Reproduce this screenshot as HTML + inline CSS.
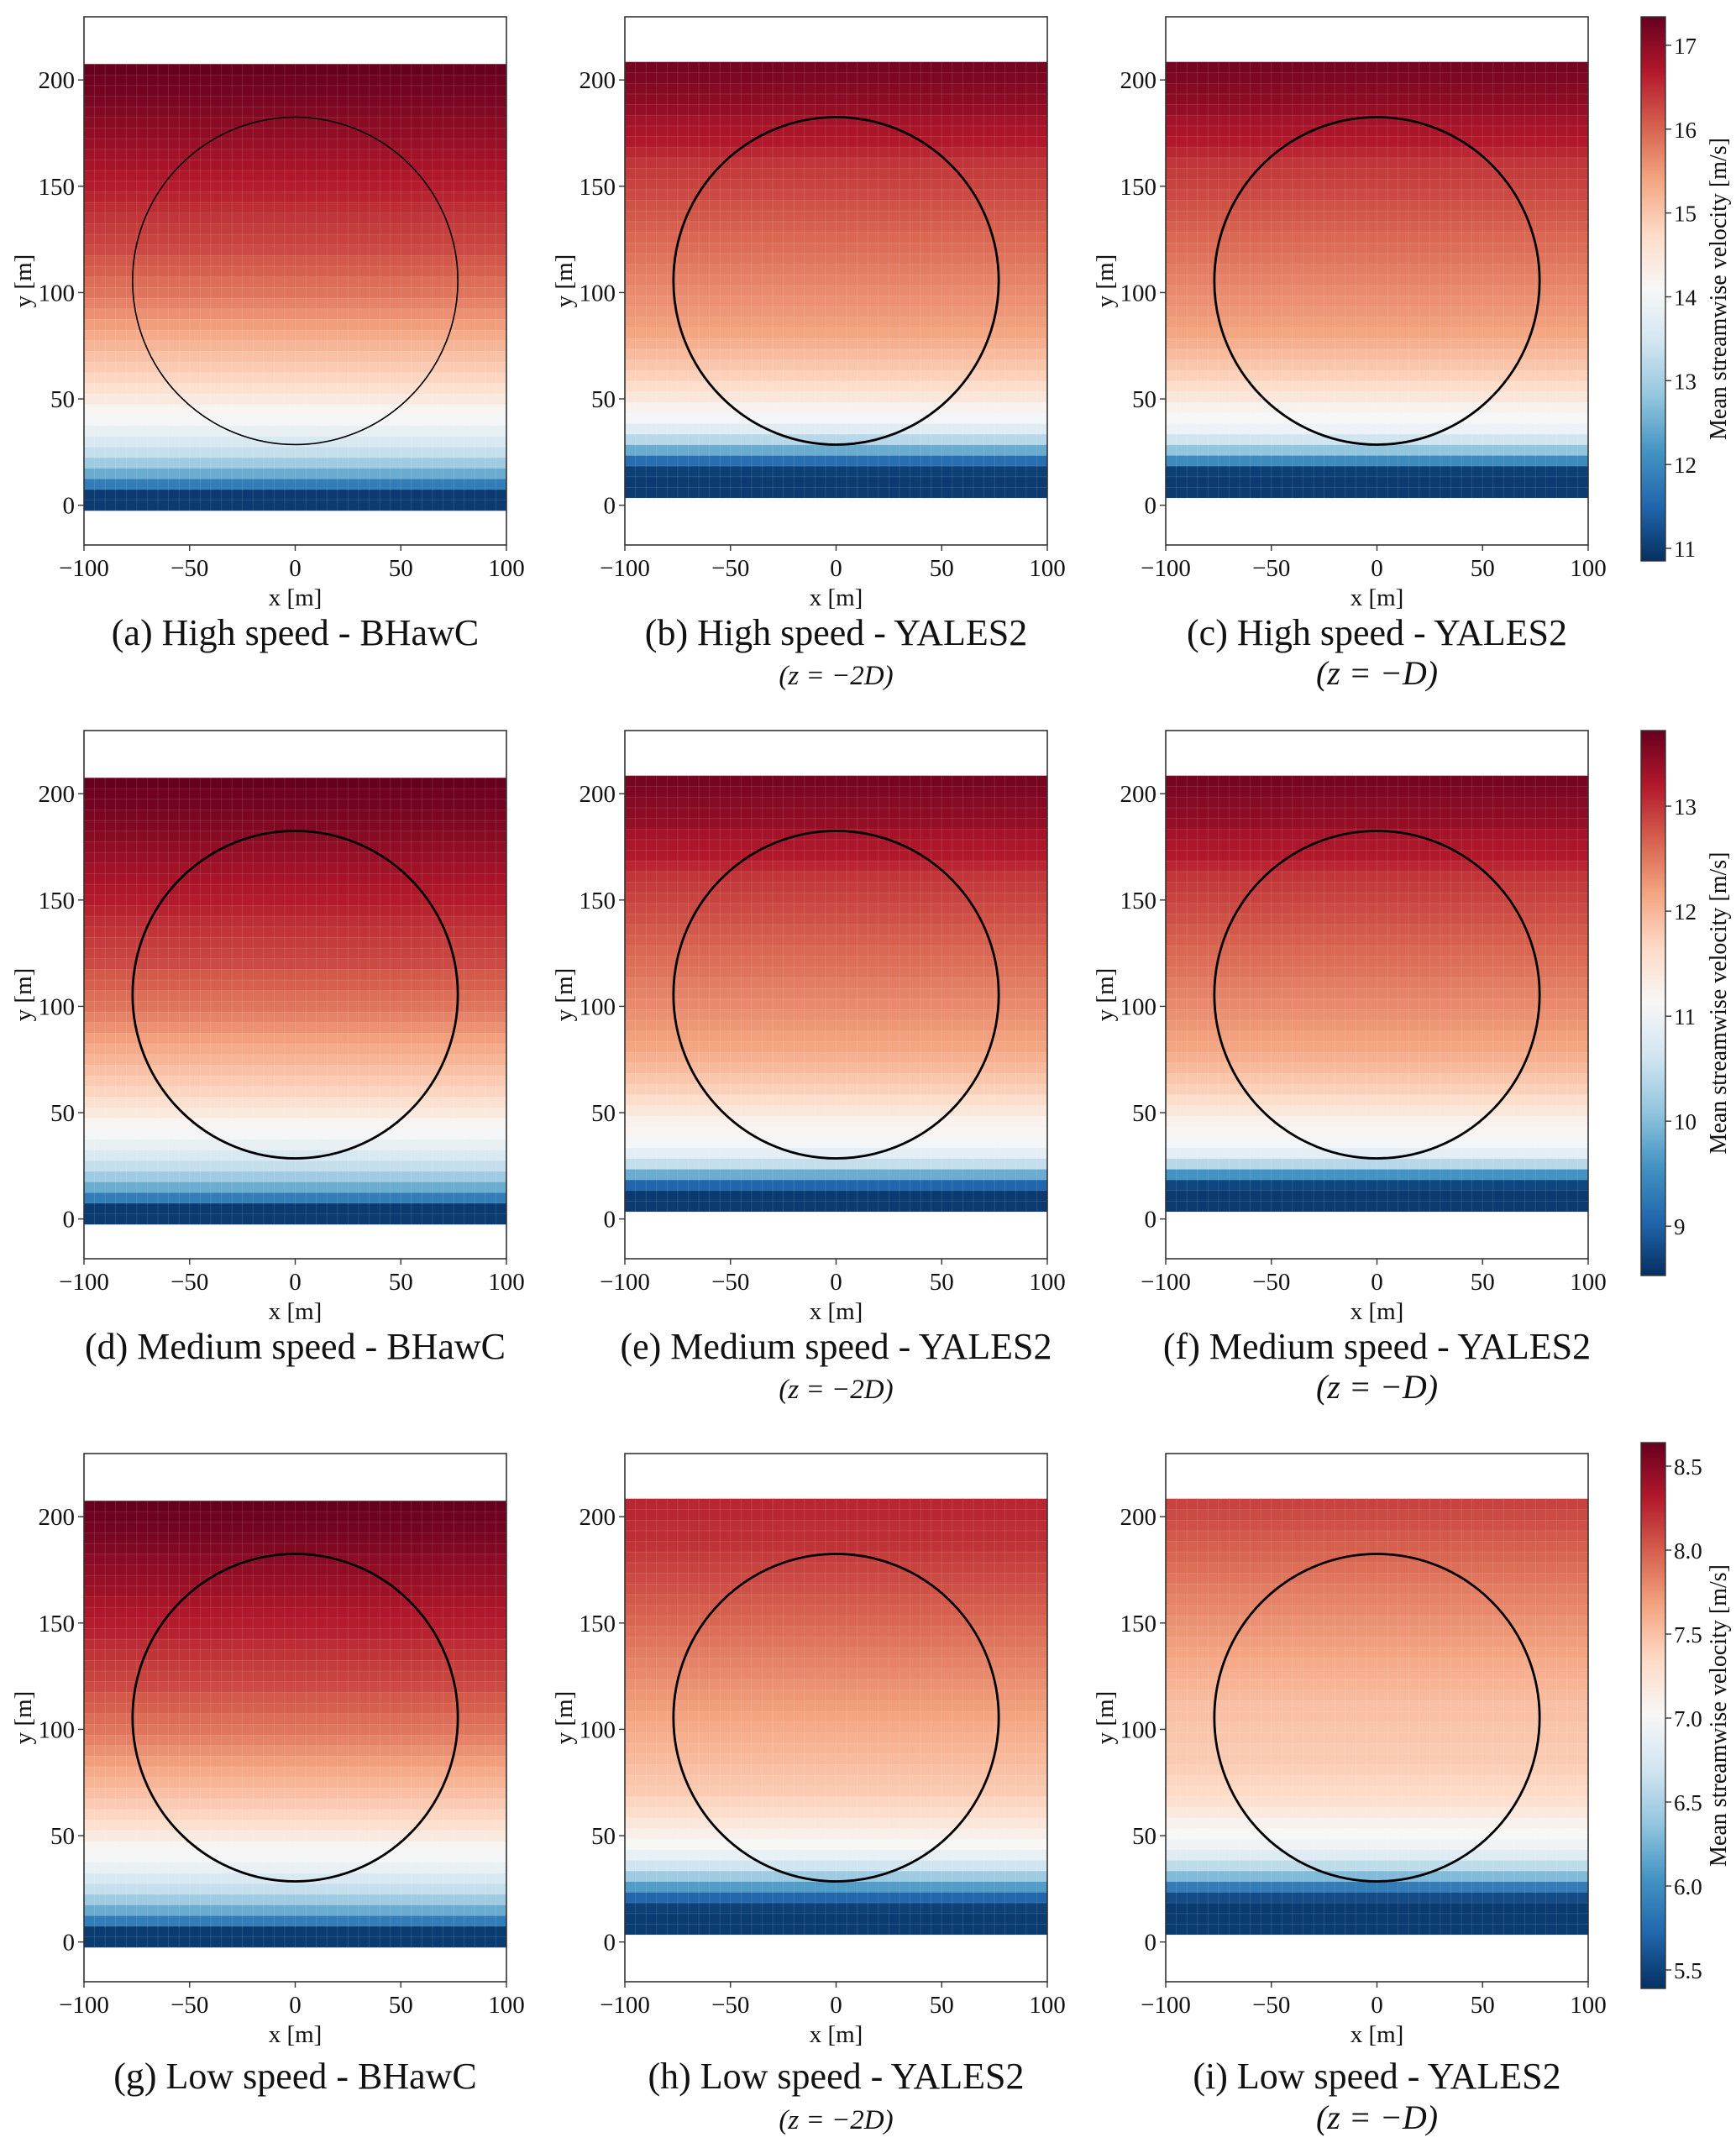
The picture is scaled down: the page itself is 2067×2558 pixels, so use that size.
<!DOCTYPE html>
<html><head><meta charset="utf-8">
<style>
html,body{margin:0;padding:0;background:#fff;}
svg{display:block;font-family:"Liberation Serif","DejaVu Serif",serif;}
</style></head>
<body>
<svg id="fig" width="2067" height="2558" viewBox="0 0 2067 2558" xmlns="http://www.w3.org/2000/svg"></svg>
<script>
// ---- data ----
const xTicks = [-100, -50, 0, 50, 100];
const yTicks = [0, 50, 100, 150, 200];
const bhawcRowBase = -2.5;
const yalesRowBase = 3.5;
const rowStep = 5;
const colStep = 5;
const rotorCenterY = 105.5;
const rotorRadius = 77;

const profA = [10.98,10.98,11.82,12.47,12.93,13.32,13.58,13.84,14.03,14.16,14.42,14.61,14.81,14.94,15.07,15.2,15.33,15.46,15.59,15.72,15.85,15.91,16.04,16.11,16.24,16.3,16.37,16.43,16.5,16.59,16.66,16.72,16.79,16.85,16.92,16.98,17.05,17.11,17.18,17.24,17.28,17.34];
const profB = [10.98,10.98,11.04,11.63,12.47,13.19,13.71,14.03,14.22,14.48,14.68,14.87,15.0,15.13,15.26,15.39,15.46,15.52,15.59,15.65,15.72,15.78,15.85,15.91,15.98,16.04,16.11,16.17,16.24,16.3,16.37,16.43,16.56,16.69,16.76,16.82,16.95,17.02,17.08,17.15,17.21];
const profC = [10.98,10.98,11.04,12.02,12.8,13.45,13.9,14.1,14.22,14.48,14.68,14.87,15.0,15.13,15.26,15.39,15.46,15.52,15.59,15.65,15.72,15.78,15.85,15.91,15.98,16.04,16.11,16.17,16.24,16.3,16.37,16.43,16.56,16.69,16.76,16.82,16.95,17.02,17.08,17.15,17.21];
const profD = [8.63,8.63,9.31,9.83,10.19,10.5,10.71,10.92,11.07,11.18,11.38,11.54,11.7,11.8,11.9,12.01,12.11,12.21,12.32,12.42,12.53,12.58,12.68,12.73,12.84,12.89,12.94,12.99,13.05,13.12,13.18,13.23,13.28,13.33,13.38,13.43,13.49,13.54,13.59,13.64,13.67,13.72];
const profE = [8.63,8.63,9.05,9.83,10.5,10.87,11.07,11.18,11.23,11.44,11.59,11.75,11.85,11.96,12.06,12.16,12.21,12.27,12.32,12.37,12.42,12.47,12.53,12.58,12.63,12.68,12.73,12.79,12.84,12.89,12.94,12.99,13.1,13.2,13.25,13.3,13.41,13.46,13.51,13.56,13.62];
const profF = [8.63,8.63,8.74,9.57,10.4,10.87,11.07,11.18,11.23,11.44,11.59,11.75,11.85,11.96,12.06,12.16,12.21,12.27,12.32,12.37,12.42,12.47,12.53,12.58,12.63,12.68,12.73,12.79,12.84,12.89,12.94,12.99,13.1,13.2,13.25,13.3,13.41,13.46,13.51,13.56,13.62];
const profG = [5.46,5.46,5.88,6.2,6.43,6.63,6.76,6.89,6.98,7.05,7.18,7.28,7.37,7.44,7.5,7.57,7.63,7.7,7.76,7.83,7.89,7.93,7.99,8.02,8.09,8.12,8.15,8.19,8.22,8.27,8.3,8.33,8.36,8.4,8.43,8.46,8.49,8.53,8.56,8.59,8.61,8.64];
const profH = [5.46,5.46,5.49,5.72,6.1,6.43,6.69,6.89,7.02,7.11,7.21,7.31,7.37,7.44,7.47,7.5,7.54,7.57,7.6,7.63,7.67,7.7,7.73,7.76,7.8,7.83,7.86,7.89,7.93,7.96,7.99,8.02,8.06,8.09,8.12,8.15,8.19,8.22,8.22,8.25,8.25];
const profI = [5.46,5.46,5.46,5.55,5.88,6.3,6.59,6.82,6.95,7.02,7.08,7.18,7.28,7.34,7.37,7.41,7.44,7.44,7.47,7.47,7.5,7.5,7.54,7.57,7.6,7.63,7.67,7.7,7.73,7.76,7.8,7.83,7.86,7.89,7.93,7.96,7.99,8.02,8.06,8.09,8.12];

const cbarRange1 = [10.85, 17.34];
const cbarRange2 = [8.53, 13.72];
const cbarRange3 = [5.39, 8.64];
const cbarTicks1 = [11, 12, 13, 14, 15, 16, 17];
const cbarTicks2 = [9, 10, 11, 12, 13];
const cbarTicks3 = [5.5, 6.0, 6.5, 7.0, 7.5, 8.0, 8.5];
const cbarTickLabels3 = ["5.5","6.0","6.5","7.0","7.5","8.0","8.5"];

const captionsMain = ["(a) High speed - BHawC","(b) High speed - YALES2","(c) High speed - YALES2",
 "(d) Medium speed - BHawC","(e) Medium speed - YALES2","(f) Medium speed - YALES2",
 "(g) Low speed - BHawC","(h) Low speed - YALES2","(i) Low speed - YALES2"];

// ---- layout ----
const NS = "http://www.w3.org/2000/svg";
const svg = document.getElementById('fig');
const colLeft = [100, 744, 1388];
const rowTop = [20, 870, 1731];
const axW = 503, axH = 629;
const xMin = -100, xMax = 100, yMin = -18.7, yMax = 229.7;
const cbX = 1954, cbW = 29;
const cbTop = [20, 870, 1718];
const cbBot = [668, 1519, 2368];
const capY = [768, 1618, 2487];
const subY = [815, 1665, 2535];

const stops = ["#053061","#2166ac","#4393c3","#92c5de","#d1e5f0","#f7f7f7","#fddbc7","#f4a582","#d6604d","#b2182b","#67001f"];
function hex(h){return [parseInt(h.substr(1,2),16),parseInt(h.substr(3,2),16),parseInt(h.substr(5,2),16)];}
const stopRGB = stops.map(hex);
function cmap(f){
  f = Math.max(0, Math.min(1, f));
  const p = f*(stopRGB.length-1), i = Math.min(Math.floor(p), stopRGB.length-2), t = p-i;
  const a = stopRGB[i], b = stopRGB[i+1];
  return `rgb(${Math.round(a[0]+(b[0]-a[0])*t)},${Math.round(a[1]+(b[1]-a[1])*t)},${Math.round(a[2]+(b[2]-a[2])*t)})`;
}
function mk(tag, attrs, parent){
  const e = document.createElementNS(NS, tag);
  for (const k in attrs) e.setAttribute(k, attrs[k]);
  (parent||svg).appendChild(e);
  return e;
}
function fmt(v){ return v < 0 ? "\u2212" + Math.abs(v) : String(v); }

const panels = [
 {p:profA, base:bhawcRowBase, r:0, c:0, rng:cbarRange1, sub:null},
 {p:profB, base:yalesRowBase, r:0, c:1, rng:cbarRange1, sub:"(z = \u22122D)"},
 {p:profC, base:yalesRowBase, r:0, c:2, rng:cbarRange1, sub:"(z = \u2212D)"},
 {p:profD, base:bhawcRowBase, r:1, c:0, rng:cbarRange2, sub:null},
 {p:profE, base:yalesRowBase, r:1, c:1, rng:cbarRange2, sub:"(z = \u22122D)"},
 {p:profF, base:yalesRowBase, r:1, c:2, rng:cbarRange2, sub:"(z = \u2212D)"},
 {p:profG, base:bhawcRowBase, r:2, c:0, rng:cbarRange3, sub:null},
 {p:profH, base:yalesRowBase, r:2, c:1, rng:cbarRange3, sub:"(z = \u22122D)"},
 {p:profI, base:yalesRowBase, r:2, c:2, rng:cbarRange3, sub:"(z = \u2212D)"}
];

panels.forEach((pn, idx) => {
  const L = colLeft[pn.c], T = rowTop[pn.r];
  const sx = x => L + (x - xMin) / (xMax - xMin) * axW;
  const sy = y => T + (yMax - y) / (yMax - yMin) * axH;
  const g = mk('g', {});
  
  
  const heat = mk('g', {}, g);
  
  
  const nCols = (xMax - xMin) / colStep;
  pn.p.forEach((v, ri) => {
    const y0 = pn.base + ri * rowStep, y1 = y0 + rowStep;
    const col = cmap((v - pn.rng[0]) / (pn.rng[1] - pn.rng[0]));
    for (let ci = 0; ci < nCols; ci++) {
      const x0 = xMin + ci * colStep, x1 = x0 + colStep;
      const r = mk('rect', {x: sx(x0), y: sy(y1), width: sx(x1) - sx(x0) + 0.3, height: sy(y0) - sy(y1) + 0.3, fill: col, stroke: 'rgba(255,255,255,0.12)', 'stroke-width': 0.8}, heat);
      
      
    }
  });
  const rx = sx(rotorRadius) - sx(0), ry = sy(rotorCenterY - rotorRadius) - sy(rotorCenterY);
  const circ = mk('ellipse', {cx: sx(0), cy: sy(rotorCenterY), rx: rx, ry: ry, fill: 'none', stroke: '#000', 'stroke-width': idx === 0 ? 1.6 : 2.8}, g);
  
  
  const fr = mk('rect', {x: L, y: T, width: axW, height: axH, fill: 'none', stroke: '#333', 'stroke-width': 1.6}, g);
  
  
  xTicks.forEach(t => {
    mk('line', {x1: sx(t), x2: sx(t), y1: T + axH, y2: T + axH + 7, stroke: '#333', 'stroke-width': 1.4}, g);
    const tx = mk('text', {x: sx(t), y: T + axH + 37, 'font-size': 29, 'text-anchor': 'middle', fill: '#111'}, g);
    tx.textContent = fmt(t);
    
    
  });
  yTicks.forEach(t => {
    mk('line', {x1: L - 7, x2: L, y1: sy(t), y2: sy(t), stroke: '#333', 'stroke-width': 1.4}, g);
    const tx = mk('text', {x: L - 11, y: sy(t) + 10, 'font-size': 29, 'text-anchor': 'end', fill: '#111'}, g);
    tx.textContent = fmt(t);
    
    
  });
  const xl = mk('text', {x: L + axW / 2, y: T + axH + 72, 'font-size': 29, 'text-anchor': 'middle', fill: '#111'}, g);
  xl.textContent = 'x [m]';
  
  
  const yl = mk('text', {x: 0, y: 0, 'font-size': 29, 'text-anchor': 'middle', fill: '#111', transform: `translate(${L - 63},${T + axH / 2}) rotate(-90)`}, g);
  yl.textContent = 'y [m]';
  
  
  const cap = mk('text', {x: L + axW / 2, y: capY[pn.r], 'font-size': 44, 'text-anchor': 'middle', fill: '#111'}, g);
  cap.textContent = captionsMain[idx];
  
  
  if (pn.sub) {
    const s = mk('text', {x: L + axW / 2, y: subY[pn.r], 'font-size': pn.c === 2 ? 40 : 33, 'text-anchor': 'middle', fill: '#111', 'font-style': 'italic'}, g);
    s.textContent = pn.sub;
    
    
  }
});

const cbRanges = [cbarRange1, cbarRange2, cbarRange3];
const cbTicks = [cbarTicks1, cbarTicks2, cbarTicks3];
const defs = mk('defs', {});
for (let k = 0; k < 3; k++) {
  const gr = mk('linearGradient', {id: 'cbg' + k, x1: 0, y1: 1, x2: 0, y2: 0}, defs);
  stops.forEach((s, i) => mk('stop', {offset: i / (stops.length - 1), 'stop-color': s}, gr));
  const g = mk('g', {});
  
  
  const t = cbTop[k], b = cbBot[k], rng = cbRanges[k];
  mk('rect', {x: cbX, y: t, width: cbW, height: b - t, fill: `url(#cbg${k})`, stroke: '#333', 'stroke-width': 1.4}, g);
  const sv = v => b - (v - rng[0]) / (rng[1] - rng[0]) * (b - t);
  cbTicks[k].forEach((v, i) => {
    mk('line', {x1: cbX + cbW, x2: cbX + cbW + 7, y1: sv(v), y2: sv(v), stroke: '#333', 'stroke-width': 1.4}, g);
    const tx = mk('text', {x: cbX + cbW + 10, y: sv(v) + 10, 'font-size': 27, fill: '#111'}, g);
    tx.textContent = k === 2 ? cbarTickLabels3[i] : String(v);
    
    
  });
  const lb = mk('text', {x: 0, y: 0, 'font-size': 28, 'text-anchor': 'middle', fill: '#111', transform: `translate(${2055},${(t + b) / 2}) rotate(-90)`}, g);
  lb.textContent = 'Mean streamwise velocity [m/s]';
  
  
}
</script>
</body></html>
